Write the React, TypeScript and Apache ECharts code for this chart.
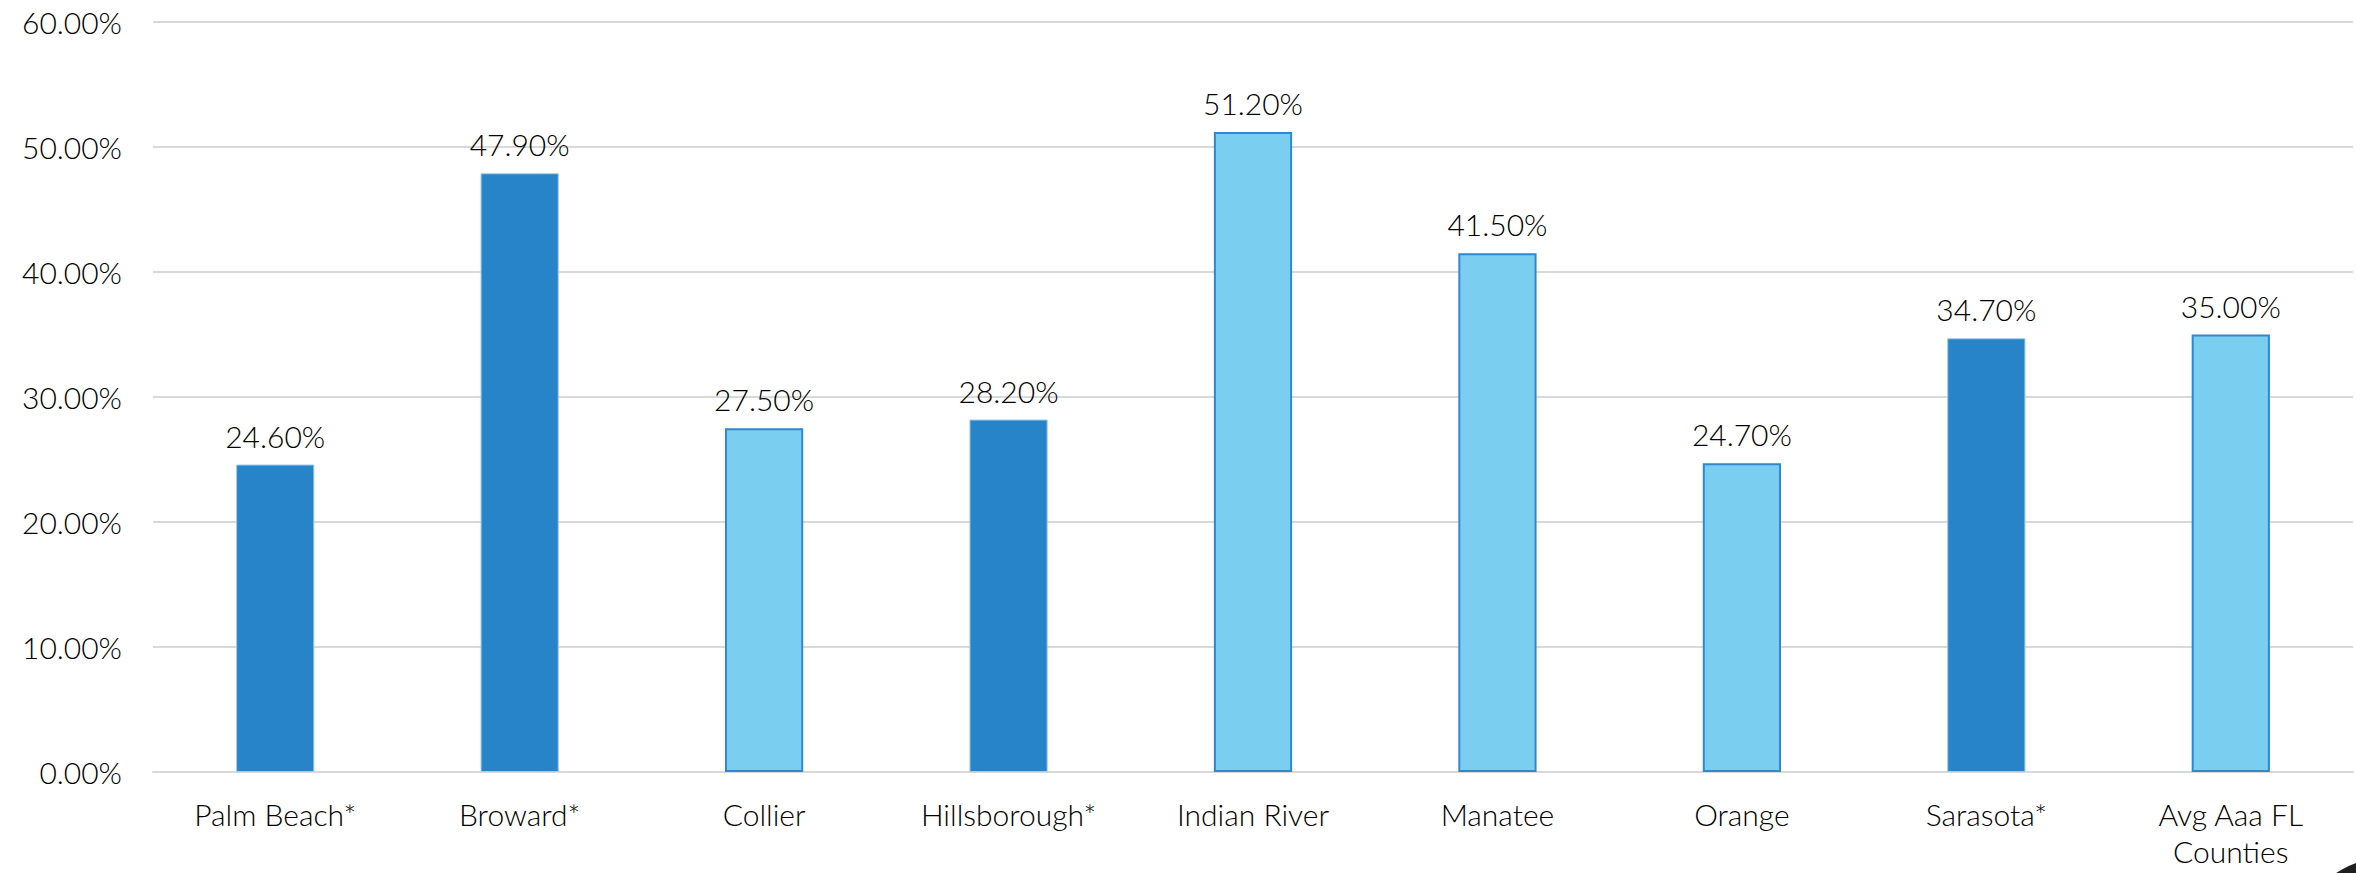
import React, { useEffect, useRef } from "react";
import * as echarts from "echarts";

// Share of total by county
const counties = [
  "Palm Beach*",
  "Broward*",
  "Collier",
  "Hillsborough*",
  "Indian River",
  "Manatee",
  "Orange",
  "Sarasota*",
  "Avg Aaa FL\nCounties",
];
const shares = [24.6, 47.9, 27.5, 28.2, 51.2, 41.5, 24.7, 34.7, 35.0];
// true = starred county (darker bar)
const highlighted = [true, true, false, true, false, false, false, true, false];
const yTicks = { min: 0, max: 60, interval: 10 };

const FONT = "Lato, 'DejaVu Sans', sans-serif";
const WEIGHT = 300;
const DARK = "#2884C8";
const LIGHT = "#7ACEF0";
const LIGHT_EDGE = "#2F88D0";

export default function App() {
  const ref = useRef<HTMLDivElement>(null);

  useEffect(() => {
    if (!ref.current) return;
    const chart = echarts.init(ref.current, undefined, { renderer: "svg" });
    chart.setOption({
      animation: false,
      backgroundColor: "#ffffff",
      grid: { left: 153, right: 3, top: 22, bottom: 101, containLabel: false },
      xAxis: {
        type: "category",
        data: counties,
        axisLine: { show: true, lineStyle: { color: "#d9d9d9", width: 2 } },
        axisTick: { show: false },
        axisLabel: {
          color: "#000",
          fontFamily: FONT,
          fontWeight: WEIGHT,
          fontSize: 30,
          margin: 23,
          lineHeight: 37,
          interval: 0,
        },
      },
      yAxis: {
        type: "value",
        min: yTicks.min,
        max: yTicks.max,
        interval: yTicks.interval,
        axisLine: { show: false },
        axisTick: { show: false },
        splitLine: { lineStyle: { color: "#d9d9d9", width: 2 } },
        axisLabel: {
          color: "#000",
          fontFamily: FONT,
          fontWeight: WEIGHT,
          fontSize: 30,
          margin: 31,
          formatter: (v: number) => v.toFixed(2) + "%",
        },
      },
      series: [
        {
          type: "bar",
          barWidth: "32%",
          data: shares.map((v, i) => ({
            value: v,
            itemStyle: highlighted[i]
              ? { color: DARK, borderColor: "#9CCDEF", borderWidth: 1 }
              : { color: LIGHT, borderColor: LIGHT_EDGE, borderWidth: 2 },
          })),
          label: {
            show: true,
            position: "top",
            distance: 14,
            color: "#000",
            fontFamily: FONT,
            fontWeight: WEIGHT,
            fontSize: 30,
            formatter: (p: any) => Number(p.value).toFixed(2) + "%",
          },
        },
      ],
      graphic: [
        {
          type: "circle",
          shape: { cx: 2385, cy: 945, r: 82 },
          style: { fill: "#efe7d2", stroke: "#1f1f1f", lineWidth: 10 },
          silent: true,
        },
      ],
    });
    return () => chart.dispose();
  }, []);

  return (
    <div
      ref={ref}
      style={{ position: "fixed", left: 0, top: 0, width: 2356, height: 873 }}
    />
  );
}
